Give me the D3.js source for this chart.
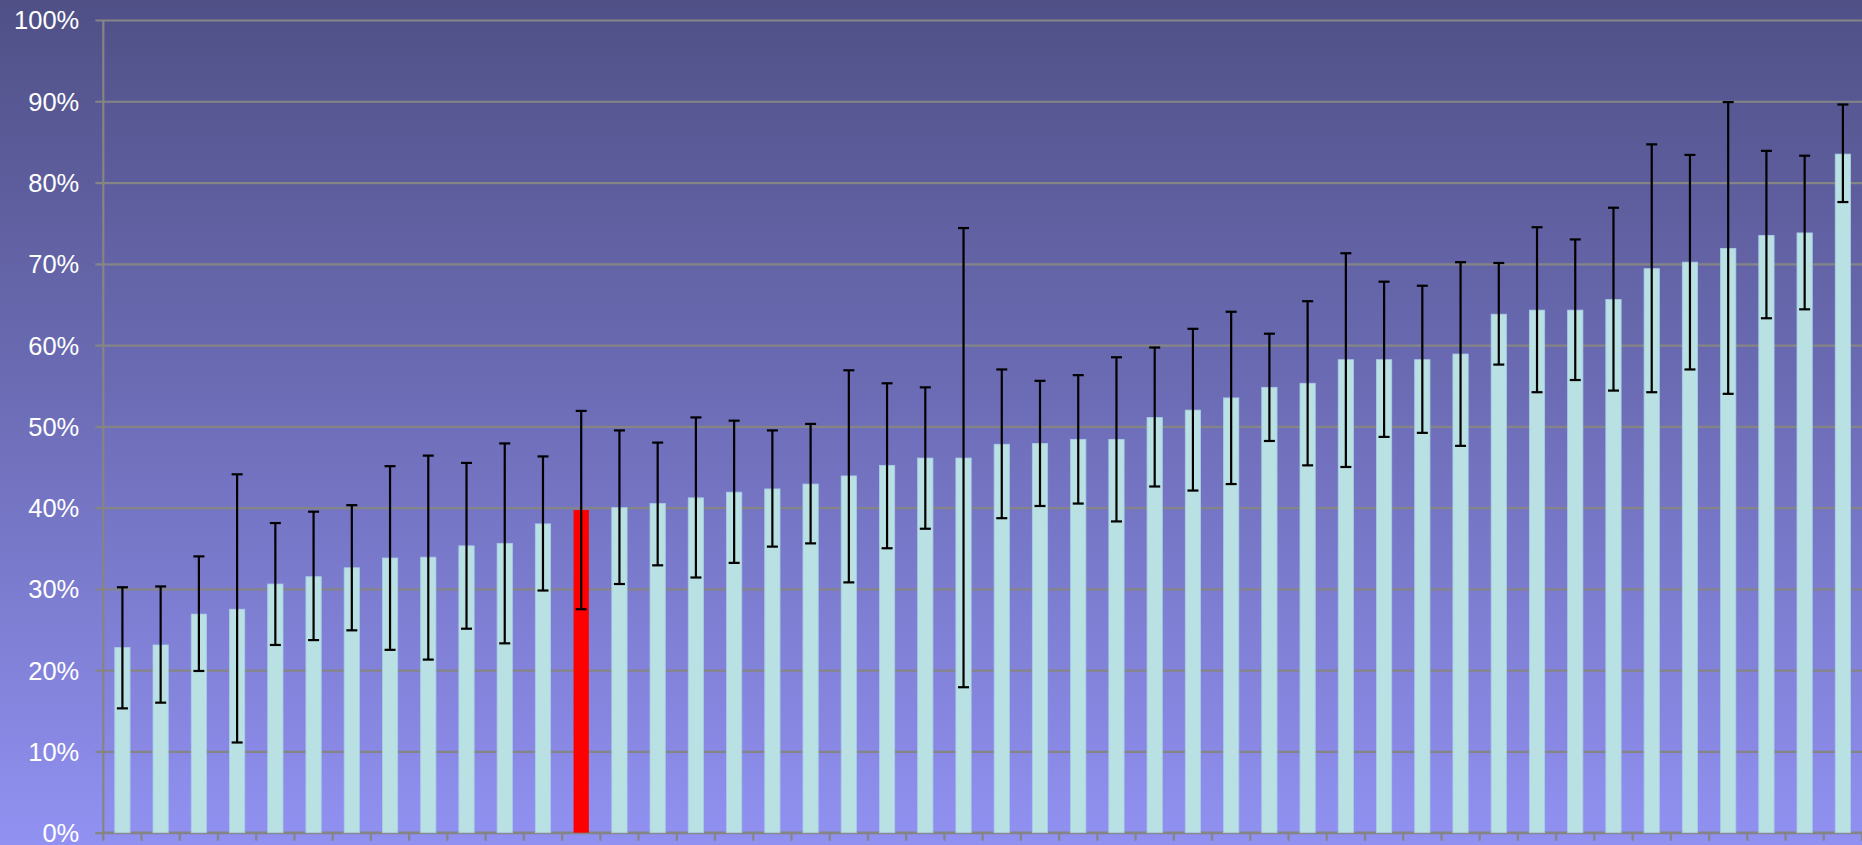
<!DOCTYPE html>
<html>
<head>
<meta charset="utf-8">
<script src="https://cdn.jsdelivr.net/npm/d3@7"></script>
<style>
  html, body { margin: 0; padding: 0; overflow: hidden; }
  svg { display: block; }
</style>
</head>
<body>
<svg id="chart" width="1862" height="845"></svg>
<script>
// ---- data ----
const categories = d3.range(1, 47).map(String);
const values = [
  22.8, 23.1, 26.9, 27.5, 30.6, 31.5, 32.6, 33.8, 33.9, 35.3,
  35.6, 38.0, 39.7, 40.0, 40.5, 41.2, 41.9, 42.3, 42.9, 43.9,
  45.2, 46.1, 46.1, 47.8, 47.9, 48.4, 48.4, 51.1, 52.0, 53.5,
  54.8, 55.3, 58.2, 58.2, 58.2, 58.9, 63.8, 64.3, 64.3, 65.6,
  69.4, 70.2, 71.9, 73.5, 73.8, 83.5
];
const errHigh = [
  30.2, 30.3, 34.0, 44.1, 38.1, 39.5, 40.3, 45.1, 46.4, 45.5,
  47.9, 46.3, 51.9, 49.5, 48.0, 51.1, 50.7, 49.5, 50.3, 56.9,
  55.3, 54.8, 74.4, 57.0, 55.6, 56.3, 58.5, 59.7, 62.0, 64.1,
  61.4, 65.4, 71.3, 67.8, 67.3, 70.2, 70.1, 74.5, 73.0, 76.9,
  84.7, 83.4, 89.9, 83.9, 83.3, 89.6
];
const errLow = [
  15.3, 16.0, 19.9, 11.1, 23.1, 23.7, 24.9, 22.5, 21.3, 25.1,
  23.3, 29.8, 27.5, 30.6, 32.9, 31.4, 33.2, 35.2, 35.6, 30.8,
  35.0, 37.4, 17.9, 38.7, 40.2, 40.5, 38.3, 42.6, 42.1, 42.9,
  48.2, 45.2, 45.0, 48.7, 49.2, 47.6, 57.6, 54.2, 55.7, 54.4,
  54.2, 57.0, 54.0, 63.3, 64.4, 77.6
];
const highlighted = ["13"];
const yTicks = [0, 10, 20, 30, 40, 50, 60, 70, 80, 90, 100];

// ---- layout ----
const W = 1862, H = 845;
const mLeft = 103.3, mRight = 1862, mTop = 20, mBottom = 832.7;

const svg = d3.select("#chart");

const defs = svg.append("defs");
const grad = defs.append("linearGradient")
  .attr("id", "bg").attr("x1", 0).attr("y1", 0).attr("x2", 0).attr("y2", 1);
grad.append("stop").attr("offset", "0%").attr("stop-color", "#505087");
grad.append("stop").attr("offset", "50%").attr("stop-color", "#6e6eb9");
grad.append("stop").attr("offset", "100%").attr("stop-color", "#9191f2");

svg.append("rect").attr("x", 0).attr("y", 0).attr("width", W).attr("height", H)
  .attr("fill", "url(#bg)");

const x = d3.scaleBand().domain(categories).range([mLeft, mRight])
  .paddingInner(0.6).paddingOuter(0.3);
const xTicks = d3.scaleBand().domain(categories).range([mLeft, mRight]).padding(0);
const y = d3.scaleLinear().domain([0, 100]).range([mBottom, mTop]);

// gridlines + y axis
const yAxis = d3.axisLeft(y).tickValues(yTicks)
  .tickFormat(d => d + "%").tickSize(8).tickPadding(16);
const gy = svg.append("g").attr("transform", `translate(${mLeft},0)`).call(yAxis);
gy.select(".domain").remove();
gy.selectAll(".tick line").attr("stroke", "#858585").attr("stroke-width", 2.2)
  .attr("x1", -8).attr("x2", mRight - mLeft);
gy.selectAll(".tick text")
  .attr("fill", "#ffffff")
  .attr("font-family", "'Liberation Sans', Arial, sans-serif")
  .attr("font-size", "25.5px")
  .attr("dy", "0.35em");

// y axis line
svg.append("line").attr("x1", mLeft).attr("x2", mLeft).attr("y1", mTop).attr("y2", mBottom)
  .attr("stroke", "#858585").attr("stroke-width", 2.2);

// x axis (band boundaries as ticks)
const boundaries = categories.map(c => xTicks(c)).concat([mRight]);
const gx = svg.append("g");
gx.append("line").attr("x1", mLeft).attr("x2", mRight).attr("y1", mBottom).attr("y2", mBottom)
  .attr("stroke", "#858585").attr("stroke-width", 2.2);
gx.selectAll("line.tk").data(boundaries).join("line").attr("class", "tk")
  .attr("x1", d => d).attr("x2", d => d)
  .attr("y1", mBottom).attr("y2", mBottom + 8)
  .attr("stroke", "#858585").attr("stroke-width", 2.2);

// bars
const rows = categories.map((c, i) => ({ c, v: values[i], lo: errLow[i], hi: errHigh[i] }));
svg.append("g").selectAll("rect").data(rows).join("rect")
  .attr("x", d => x(d.c))
  .attr("width", x.bandwidth())
  .attr("y", d => y(d.v))
  .attr("height", d => y(0) - y(d.v))
  .attr("fill", d => highlighted.includes(d.c) ? "#ff0000" : "#b9e0e2")
  .attr("stroke", d => highlighted.includes(d.c) ? "none" : "#a9cbe6")
  .attr("stroke-width", 0.8);

// error bars
const cap = 5.5;
const eb = svg.append("g").attr("stroke", "#000").attr("stroke-width", 2.2);
const cx = d => x(d.c) + x.bandwidth() / 2;
eb.selectAll("line.v").data(rows).join("line").attr("class", "v")
  .attr("x1", cx).attr("x2", cx)
  .attr("y1", d => y(d.hi)).attr("y2", d => y(d.lo));
eb.selectAll("line.t").data(rows).join("line").attr("class", "t")
  .attr("x1", d => cx(d) - cap).attr("x2", d => cx(d) + cap)
  .attr("y1", d => y(d.hi)).attr("y2", d => y(d.hi));
eb.selectAll("line.b").data(rows).join("line").attr("class", "b")
  .attr("x1", d => cx(d) - cap).attr("x2", d => cx(d) + cap)
  .attr("y1", d => y(d.lo)).attr("y2", d => y(d.lo));
</script>
</body>
</html>
